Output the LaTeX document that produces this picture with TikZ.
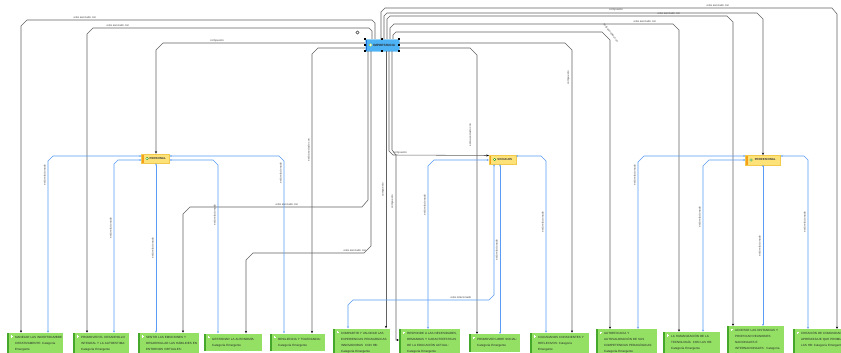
\documentclass[tikz,border=0pt]{standalone}
\usepackage{fontspec}
\setmainfont{Liberation Sans}
\usetikzlibrary{arrows.meta}
\definecolor{gline}{HTML}{626262}
\definecolor{bline}{HTML}{5A9CF5}
\definecolor{gfill}{HTML}{93E065}
\definecolor{gdark}{HTML}{45A82B}
\definecolor{yfill}{HTML}{FDE27A}
\definecolor{ydraw}{HTML}{F2C94C}
\definecolor{ostrip}{HTML}{F6A01A}
\definecolor{bfill}{HTML}{4DB3F5}
\definecolor{bdark}{HTML}{1F6ED6}
\definecolor{lbltext}{HTML}{4A4A4A}
\tikzset{
  gbox/.style={rectangle, fill=gfill, anchor=north west, inner sep=0pt,
    path picture={
      \fill[gdark] (path picture bounding box.north west) rectangle ([xshift=1.8pt]path picture bounding box.south west);
      \draw[white, line width=0.7pt] ([xshift=3.4pt,yshift=-3.6pt]path picture bounding box.north west) -- ++(2.4pt,0pt);
      \draw[white, line width=0.7pt] ([xshift=4.6pt,yshift=-2.4pt]path picture bounding box.north west) -- ++(0pt,-2.4pt);
    }},
  gtext/.style={anchor=base west, text width=95pt, align=left, inner sep=0pt,
    font=\fontsize{3}{6}\selectfont, text=black!85},
  cat/.style={rectangle, fill=yfill, draw=ydraw, line width=0.3pt, minimum height=9.5pt,
    inner xsep=2pt, inner ysep=0pt, font=\bfseries\fontsize{2.9}{3}\selectfont, text=black!80,
    path picture={
      \fill[ostrip] (path picture bounding box.north west) rectangle ([xshift=2.2pt]path picture bounding box.south west);
      \filldraw[fill=white, draw=green!55!black, line width=0.25pt] ([xshift=5.6pt]path picture bounding box.west) circle (1.3pt);
    }},
  impbox/.style={rectangle, fill=bfill, draw=bfill!60!white, line width=0.4pt,
    inner xsep=2pt, inner ysep=0pt, font=\bfseries\fontsize{3.1}{3.2}\selectfont, text=black!85,
    path picture={
      \fill[bdark] (path picture bounding box.north west) rectangle ([xshift=2.4pt]path picture bounding box.south west);
      \filldraw[fill=white, draw=yellow!70!green, line width=0.3pt] ([xshift=5.6pt]path picture bounding box.west) circle (1.4pt);
    }},
  lbl/.style={font=\fontsize{2.8}{2.8}\selectfont, text=lbltext, inner sep=0.3pt},
  gl/.style={draw=gline, line width=0.55pt, -{Stealth[length=2.4pt,width=2.1pt,color=black]}},
  bl/.style={draw=bline, line width=0.55pt, {Stealth[length=2pt,width=1.8pt]}-{Stealth[length=2pt,width=1.8pt]}},
}
\newcommand\mkgreen[7]{%
  \node[gbox, minimum width=#4pt, minimum height=#5pt] (#1) at (#2,#3) {};
  \node[gtext] (#1t) at ([xshift=8pt,yshift=-#6pt]#1.north west) {#7};
}
\begin{document}
\begin{tikzpicture}[x=1pt,y=-1pt]
\useasboundingbox (0,0) rectangle (841,353);
\clip (0,0) rectangle (841,353);
\fill[white] (0,0) rectangle (841,353);

% central and category nodes
\node[impbox, minimum width=34pt, minimum height=12pt] (imp) at (382,45) {\hspace*{4.5pt}IMPORTANCIA};
\node[cat, minimum width=28pt] (per) at (155.5,158.5) {\hspace*{4.5pt}PERSONAL};
\node[cat, minimum width=27pt] (soc) at (502.5,159.5) {\hspace*{4.5pt}SOCIALES};
\node[cat, minimum width=35pt] (pro) at (763,160) {\hspace*{4.5pt}PROFESIONAL};

% selection handles
\foreach \a in {north west,north,north east,east,south east,south,south west,west}
  \fill[black] (imp.\a) ++(-0.9pt,-0.9pt) rectangle ++(1.8pt,1.8pt);
\draw[black, line width=0.45pt] (357.5,32.5) circle (1.6pt);

% emergent categories
\mkgreen{n1}{7}{332.7}{56}{30}{5.8}{MANEJAR LAS INCERTIDUMBRE\\CREATIVAMENTE: Categoría\\Emergente}
\mkgreen{n2}{73}{332.7}{56}{30}{5.8}{PROMOVER EL DESARROLLO\\INTEGRAL Y LA AUTOESTIMA:\\Categoría Emergente}
\mkgreen{n3}{138}{332.7}{61}{30}{5.8}{SENTIR LAS EMOCIONES Y\\DESARROLLAR LAS HÁBILIDES EN\\ENTORNOS VIRTUALES:}
\mkgreen{n4}{204}{333.3}{58}{17.4}{6.8}{GESTIONAR LA AUTONOMÍA:\\Categoría Emergente}
\mkgreen{n5}{270}{333.3}{55}{17.4}{6.8}{RESILIENCIA Y TOLERANCIA:\\Categoría Emergente}
\mkgreen{n6}{333}{328.3}{57}{30}{5.8}{COMPARTIR Y VALORAR LAS\\EXPERIENCIAS PEDAGÓGICAS\\INNOVADORAS\ \ CON HB:\\Categoría Emergente}
\mkgreen{n7}{399}{329}{61}{30}{5.8}{RESPONDE A LAS NECESIDADES,\\DEMANDAS Y CARACTERÍSTICAS\\DE LA EDUCACIÓN ACTUAL:\\Categoría Emergente}
\mkgreen{n8}{469}{334}{51}{17.4}{6.8}{PROMOVER LIBRE SOCIAL:\\Categoría Emergente}
\mkgreen{n9}{530}{332.7}{59}{30}{5.8}{CIUDADANOS CONSCIENTES Y\\REFLEXIVOS: Categoría\\Emergente}
\mkgreen{n10}{596}{329}{61}{30}{5.8}{AUTOEFICACIA Y\\AUTOVALORACIÓN DE SUS\\COMPETENCIAS PEDAGÓGICAS:\\Categoría Emergente}
\mkgreen{n11}{663}{331.7}{57}{30}{5.8}{LA HUMANIZACIÓN DE LA\\TECNOLOGÍA\ \ CON LAS HB:\\Categoría Emergente}
\mkgreen{n12}{727}{326}{57}{30}{5.8}{ACORTAR LAS DISTANCIAS Y\\PROPICIAR REUNIONES\\NACIONALES E\\INTERNACIONALES:\ \ Categoría\\Emergente}
\mkgreen{n13}{793}{329}{62}{30}{5.8}{CREACIÓN DE COMUNIDADES DE\\APRENDIZAJE QUE PROMUEVEN\\LAS HB: Categoría Emergente}

% gray connectors from IMPORTANCIA
\draw[gl] (imp.north -| 375,0) -- (375,23) -- (372,20) -- (27,20) -- (21,26) -- (n1.north -| 21,0);
\draw[gl] (imp.north -| 372,0) -- (372,31) -- (369,28) -- (93,28) -- (87,34) -- (n2.north -| 87,0);
\draw[gl] (imp.west |- 0,43) -- (163,43) -- (156,50) -- (per.north -| 156,0);
\draw[gl] (imp.west |- 0,48) -- (318,48) -- (312,54) -- (n5.north -| 312,0);
\draw[gl] (imp.south -| 368,0) -- (368,200) -- (362,207) -- (190,207) -- (183,214) -- (n3.north -| 183,0);
\draw[gl] (imp.south -| 371,0) -- (371,246) -- (364,253) -- (253,253) -- (246,260) -- (n4.north -| 246,0);
\draw[gl] (imp.south -| 386,0) -- (n6.north -| 386,0);
\draw[gl] (imp.south -| 389,0) -- (389,151) -- (393,155) -- (soc.west |- 0,155.5);
\draw[gl] (imp.south -| 392,0) -- (392,150) -- (396,155) -- (396,340) -- (n7.west |- 0,340);
\draw[gl] (imp.north -| 381,0) -- (381,12) -- (385,8) -- (832,8) -- (837,14) -- (n13.north -| 837,0);
\draw[gl] (imp.north -| 384,0) -- (384,16) -- (387,13) -- (757,13) -- (763,19) -- (pro.north -| 763,0);
\draw[gl] (imp.north -| 387,0) -- (387,19) -- (390,16) -- (727,16) -- (733,22) -- (n12.north -| 733,0);
\draw[gl] (imp.north -| 390,0) -- (390,28) -- (394,24) -- (673,24) -- (679,30) -- (n11.north -| 679,0);
\draw[gl] (imp.north -| 393,0) -- (393,35) -- (396,32) -- (602,32) -- (610,40) -- (n10.north -| 610,0);
\draw[gl] (imp.east |- 0,43) -- (565,43) -- (572,50) -- (n9.north -| 572,0);
\draw[gl] (imp.east |- 0,48) -- (470,48) -- (477,55) -- (n8.north -| 477,0);

% blue connectors
\draw[bl] (per.west |- 0,156) -- (53,156) -- (48,161) -- (n1.north -| 48,0);
\draw[bl] (per.west |- 0,160) -- (118,160) -- (114,164) -- (n2.north -| 114,0);
\draw[bl] (per.south -| 156,0) -- (n3.north -| 156,0);
\draw[bl] (per.east |- 0,160) -- (213,160) -- (218,165) -- (n4.north -| 218,0);
\draw[bl] (per.east |- 0,156) -- (279,156) -- (284,161) -- (n5.north -| 284,0);
\draw[bl] (soc.west |- 0,160) -- (434,160) -- (428,166) -- (n7.north -| 428,0);
\draw[bl] (soc.south -| 494,0) -- (494,295) -- (489,300) -- (353,300) -- (348,305) -- (n6.north -| 348,0);
\draw[bl] (soc.south -| 500,0) -- (n8.north -| 500,0);
\draw[bl] (soc.east |- 0,156) -- (541,156) -- (546,161) -- (n9.north -| 546,0);
\draw[bl] (pro.west |- 0,156) -- (644,156) -- (638,162) -- (n10.north -| 638,0);
\draw[bl] (pro.west |- 0,160) -- (709,160) -- (703,166) -- (n11.north -| 703,0);
\draw[bl] (pro.south -| 763,0) -- (n12.north -| 763,0);
\draw[bl] (pro.east |- 0,156) -- (804,156) -- (808,160) -- (n13.north -| 808,0);

% labels, gray
\node[lbl] (la) at (85,17.5) {está asociado con};
\node[lbl] (lb) at (118,25.5) {está asociado con};
\node[lbl] (lc) at (217,40.5) {compuesto};
\node[lbl, rotate=90] (ld) at (308.5,150) {está asociado con};
\node[lbl] (le) at (287,204.5) {está asociado con};
\node[lbl] (lf) at (355,250.5) {está asociado con};
\node[lbl, rotate=90] (lg) at (383,190) {compuesto};
\node[lbl] (lsoc) at (400,152.5) {compuesto};
\node[lbl, rotate=90] (lh) at (392.5,202) {compuesto};
\node[lbl] (li1) at (718,5.5) {está asociado con};
\node[lbl] (li2) at (616,10) {compuesto};
\node[lbl] (li3) at (669,13.3) {está asociado con};
\node[lbl] (li4) at (645,21.3) {está asociado con};
\node[lbl, rotate=-52] (li5) at (611,33) {está asociado con};
\node[lbl, rotate=90] (li6) at (568.5,78) {compuesto};
\node[lbl, rotate=90] (li7) at (470,135) {está asociado con};

% labels, blue
\node[lbl, rotate=90] (m1) at (44.5,175) {está relacionado};
\node[lbl, rotate=90] (m2) at (110.5,228) {está relacionado};
\node[lbl, rotate=90] (m3) at (152.5,248) {está relacionado};
\node[lbl, rotate=90] (m4) at (214.5,215) {está relacionado};
\node[lbl, rotate=90] (m5) at (280.5,173) {está relacionado};
\node[lbl, rotate=90] (m6) at (424.5,205) {está relacionado};
\node[lbl] (m7) at (461,297.5) {está relacionado};
\node[lbl, rotate=90] (m8) at (496.5,250) {está relacionado};
\node[lbl, rotate=90] (m9) at (542.5,222) {está relacionado};
\node[lbl, rotate=90] (m10) at (634.5,175) {está relacionado};
\node[lbl, rotate=90] (m11) at (699.5,217) {está relacionado};
\node[lbl, rotate=90] (m12) at (759.5,246) {está relacionado};
\node[lbl, rotate=90] (m13) at (804.5,222) {está relacionado};
\end{tikzpicture}
\end{document}
